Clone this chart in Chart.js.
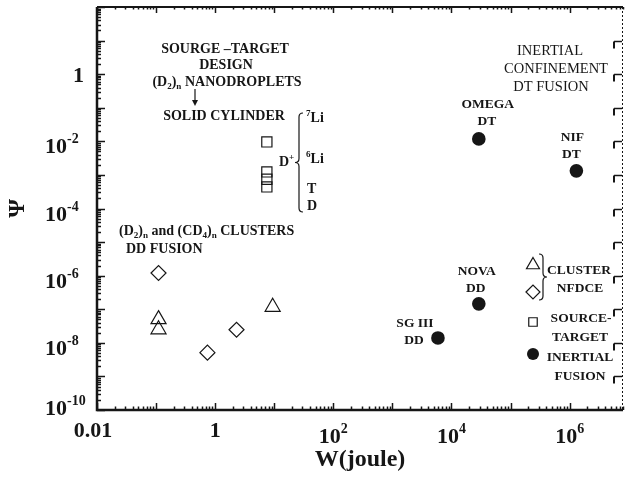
<!DOCTYPE html>
<html>
<head>
<meta charset="utf-8">
<script src="https://cdn.jsdelivr.net/npm/chart.js@4.4.1/dist/chart.umd.min.js"></script>
<style>
  html, body { margin: 0; padding: 0; background: #fff; }
  canvas { display: block; }
</style>
</head>
<body>
<canvas id="chart" width="625" height="478"></canvas>
<script>
// (D2)n and (CD4)n clusters, DD fusion - diamonds
const diamondW = [0.11, 0.74, 2.3];
const diamondPsi = [1.2e-6, 5.1e-9, 2.45e-8];
// cluster NFDCE - triangles
const triangleW = [0.11, 0.11, 9.4];
const trianglePsi = [5e-8, 2.5e-8, 1.17e-7];
// source-target (solid cylinder) - squares
const squareW = [7.5, 7.5, 7.5, 7.5];
const squarePsi = [9.6e-3, 1.23e-3, 7.4e-4, 4.4e-4];
// inertial fusion - filled circles
const fusionNames = [['OMEGA', 'DT'], ['NIF', 'DT'], ['NOVA', 'DD'], ['SG III', 'DD']];
const fusionW = [2.9e4, 1.3e6, 2.9e4, 5.9e3];
const fusionPsi = [1.18e-2, 1.32e-3, 1.45e-7, 1.4e-8];

// tick labels (powers of ten)
const xTickExp = [-2, 0, 2, 4, 6];
const yTickExp = [0, -2, -4, -6, -8, -10];

const SERIF = "'Liberation Serif', 'DejaVu Serif', serif";
const INK = '#161616';

function pts(xs, ys) {
  return xs.map((v, i) => ({ x: v, y: ys[i] }));
}

// text with _{sub} and ^{sup} pieces
function richText(ctx, str, x, y, size, weight, align) {
  const parts = [];
  const re = /([_^])\{([^}]*)\}|([^_^]+)/g;
  let m;
  while ((m = re.exec(str)) !== null) {
    if (m[3]) parts.push({ t: m[3], k: '' });
    else parts.push({ t: m[2], k: m[1] });
  }
  let w = 0;
  parts.forEach(p => {
    const s = p.k ? size * 0.65 : size;
    ctx.font = weight + ' ' + s + 'px ' + SERIF;
    p.w = ctx.measureText(p.t).width;
    p.s = s;
    w += p.w;
  });
  let cx = align === 'center' ? x - w / 2 : (align === 'right' ? x - w : x);
  const base = y + size * 0.34;
  ctx.textAlign = 'left';
  ctx.textBaseline = 'alphabetic';
  parts.forEach(p => {
    ctx.font = weight + ' ' + p.s + 'px ' + SERIF;
    let dy = 0;
    if (p.k === '_') dy = size * 0.22;
    if (p.k === '^') dy = -size * 0.38;
    ctx.fillText(p.t, cx, base + dy);
    cx += p.w;
  });
}

function brace(ctx, x, y1, y2, dir) {
  const m = (y1 + y2) / 2, w = 4;
  ctx.beginPath();
  ctx.moveTo(x - dir * w, y1);
  ctx.quadraticCurveTo(x, y1, x, y1 + w);
  ctx.lineTo(x, m - w);
  ctx.quadraticCurveTo(x, m, x + dir * w, m);
  ctx.quadraticCurveTo(x, m, x, m + w);
  ctx.lineTo(x, y2 - w);
  ctx.quadraticCurveTo(x, y2, x - dir * w, y2);
  ctx.stroke();
}

const notes = [
  ['SOURGE \u2013TARGET', 225, 48, 'center'],
  ['DESIGN', 226, 64, 'center'],
  ['(D_{2})_{n} NANODROPLETS', 227, 81, 'center'],
  ['SOLID CYLINDER', 224, 115, 'center'],
  ['^{7}Li', 306, 117, 'left'],
  ['D^{+}', 279, 161, 'left'],
  ['^{6}Li', 306, 158, 'left'],
  ['T', 307, 188, 'left'],
  ['D', 307, 205, 'left'],
  ['(D_{2})_{n} and (CD_{4})_{n} CLUSTERS', 119, 230, 'left'],
  ['DD FUSION', 126, 248, 'left']
];
const legendNotes = [
  ['CLUSTER', 579, 269],
  ['NFDCE', 580, 287],
  ['SOURCE-', 581, 317],
  ['TARGET', 580, 336],
  ['INERTIAL', 580, 356],
  ['FUSION', 580, 375]
];
const plainNotes = [
  ['INERTIAL', 550, 50],
  ['CONFINEMENT', 556, 68],
  ['DT FUSION', 551, 86]
];
// label offsets from each filled circle
const fusionLabelOffset = [[9, -36], [-4, -34], [-2, -33], [-23, -16]];

const decor = {
  id: 'decor',
  afterDraw(chart) {
    const { ctx, chartArea: a, scales: { x, y } } = chart;
    ctx.save();
    ctx.strokeStyle = INK;
    ctx.fillStyle = INK;

    // frame
    ctx.lineWidth = 2.5;
    ctx.beginPath();
    ctx.moveTo(a.left, a.top);
    ctx.lineTo(a.left, a.bottom);
    ctx.lineTo(a.right, a.bottom);
    ctx.stroke();
    ctx.lineWidth = 2;
    ctx.beginPath();
    ctx.moveTo(a.left, a.top);
    ctx.lineTo(a.right, a.top);
    ctx.stroke();
    ctx.lineWidth = 1;
    ctx.setLineDash([2, 2]);
    ctx.beginPath();
    ctx.moveTo(a.right - 0.5, a.top);
    ctx.lineTo(a.right - 0.5, a.bottom);
    ctx.stroke();
    ctx.setLineDash([]);

    // x ticks, bottom and top, pointing inward
    ctx.lineWidth = 1.5;
    for (let e = -2; e <= 7; e++) {
      for (let k = 1; k < 10; k++) {
        const v = k * Math.pow(10, e);
        if (v < x.min || v > x.max) continue;
        const px = Math.round(x.getPixelForValue(v)) + 0.5;
        const len = k === 1 ? 7 : 3.5;
        ctx.beginPath();
        ctx.moveTo(px, a.bottom);
        ctx.lineTo(px, a.bottom - len);
        ctx.moveTo(px, a.top);
        ctx.lineTo(px, a.top + len - 1);
        ctx.stroke();
      }
    }
    // y ticks, left with minors, right majors only
    for (let e = -10; e <= 2; e++) {
      for (let k = 1; k < 10; k++) {
        const v = k * Math.pow(10, e);
        if (v < y.min * 0.999 || v > y.max * 1.001) continue;
        const py = Math.round(y.getPixelForValue(v)) + 0.5;
        const len = k === 1 ? 8 : 4;
        ctx.lineWidth = 1.5;
        ctx.beginPath();
        ctx.moveTo(a.left, py);
        ctx.lineTo(a.left + len, py);
        ctx.stroke();
        if (k === 1 && e > -10 && e < 2) {
          ctx.beginPath();
          ctx.moveTo(a.right - 9, py);
          ctx.lineTo(a.right - 1, py);
          ctx.stroke();
          ctx.lineWidth = 2;
          ctx.beginPath();
          ctx.moveTo(a.right - 9, py);
          ctx.lineTo(a.right - 9, py + 7);
          ctx.stroke();
        }
      }
    }

    // tick labels
    ctx.textBaseline = 'alphabetic';
    xTickExp.forEach(e => {
      const px = x.getPixelForValue(Math.pow(10, e));
      if (e === -2 || e === 0) {
        ctx.font = 'bold 22px ' + SERIF;
        ctx.textAlign = 'center';
        ctx.fillText(e === -2 ? '0.01' : '1', px - (e === -2 ? 4 : 0), 437);
      } else {
        ctx.font = 'bold 22px ' + SERIF;
        const bw = ctx.measureText('10').width;
        ctx.font = 'bold 14px ' + SERIF;
        const ew = ctx.measureText(String(e)).width;
        const x0 = px - (bw + ew) / 2;
        ctx.textAlign = 'left';
        ctx.font = 'bold 22px ' + SERIF;
        ctx.fillText('10', x0, 443);
        ctx.font = 'bold 14px ' + SERIF;
        ctx.fillText(String(e), x0 + bw, 433);
      }
    });
    yTickExp.forEach(e => {
      const py = y.getPixelForValue(Math.pow(10, e));
      ctx.textAlign = 'left';
      if (e === 0) {
        ctx.font = 'bold 22px ' + SERIF;
        ctx.textAlign = 'right';
        ctx.fillText('1', 84, py + 8);
      } else {
        const base = Math.min(py + 12, 415);
        ctx.font = 'bold 22px ' + SERIF;
        const bw = ctx.measureText('10').width;
        ctx.fillText('10', 45, base);
        ctx.font = 'bold 14px ' + SERIF;
        ctx.fillText('-' + Math.abs(e), 45 + bw, base - 10);
      }
    });

    // annotations
    notes.forEach(n => richText(ctx, n[0], n[1], n[2], 14, 'bold', n[3]));
    legendNotes.forEach(n => richText(ctx, n[0], n[1], n[2], 13.5, 'bold', 'center'));
    plainNotes.forEach(n => richText(ctx, n[0], n[1], n[2], 14.5, 'normal', 'center'));

    // labels next to inertial fusion points
    const meta = chart.getDatasetMeta(3);
    meta.data.forEach((pt, i) => {
      const off = fusionLabelOffset[i];
      richText(ctx, fusionNames[i][0], pt.x + off[0], pt.y + off[1], 13.5, 'bold', 'center');
      richText(ctx, fusionNames[i][1], pt.x + off[0] - 1, pt.y + off[1] + 17, 13.5, 'bold', 'center');
    });

    // arrow
    ctx.lineWidth = 1.2;
    ctx.beginPath();
    ctx.moveTo(195, 89);
    ctx.lineTo(195, 103);
    ctx.stroke();
    ctx.beginPath();
    ctx.moveTo(192, 100);
    ctx.lineTo(198, 100);
    ctx.lineTo(195, 106);
    ctx.closePath();
    ctx.fill();

    // braces
    ctx.lineWidth = 1.2;
    brace(ctx, 299, 113, 212, -1);
    brace(ctx, 543, 254, 300, 1);

    // legend symbols
    const H = Chart.helpers;
    ctx.lineWidth = 1.2;
    ctx.fillStyle = 'rgba(0,0,0,0)';
    H.drawPoint(ctx, { pointStyle: 'triangle', radius: 7.5, borderWidth: 1.2, rotation: 0 }, 533, 265);
    H.drawPoint(ctx, { pointStyle: 'rectRot', radius: 7, borderWidth: 1.2, rotation: 0 }, 533, 292);
    H.drawPoint(ctx, { pointStyle: 'rect', radius: 6, borderWidth: 1.2, rotation: 0 }, 533, 322);
    ctx.fillStyle = INK;
    H.drawPoint(ctx, { pointStyle: 'circle', radius: 6, borderWidth: 0, rotation: 0 }, 533, 354);
    ctx.restore();
  }
};

new Chart(document.getElementById('chart'), {
  type: 'scatter',
  data: {
    datasets: [
      {
        label: 'clusters DD',
        data: pts(diamondW, diamondPsi),
        pointStyle: 'rectRot',
        pointRadius: 7.5,
        borderColor: INK,
        backgroundColor: 'rgba(0,0,0,0)',
        borderWidth: 1.2
      },
      {
        label: 'cluster NFDCE',
        data: pts(triangleW, trianglePsi),
        pointStyle: 'triangle',
        pointRadius: 8.7,
        borderColor: INK,
        backgroundColor: 'rgba(0,0,0,0)',
        borderWidth: 1.2
      },
      {
        label: 'source-target',
        data: pts(squareW, squarePsi),
        pointStyle: 'rect',
        pointRadius: 7.2,
        borderColor: INK,
        backgroundColor: 'rgba(0,0,0,0)',
        borderWidth: 1.2
      },
      {
        label: 'inertial fusion',
        data: pts(fusionW, fusionPsi),
        pointStyle: 'circle',
        pointRadius: 6.8,
        borderColor: INK,
        backgroundColor: INK,
        borderWidth: 0
      }
    ]
  },
  options: {
    responsive: false,
    animation: false,
    events: [],
    layout: { autoPadding: false, padding: { left: 0, right: 2, top: 7, bottom: 0 } },
    plugins: { legend: { display: false }, tooltip: { enabled: false } },
    scales: {
      x: {
        type: 'logarithmic',
        min: 0.01,
        max: 8e6,
        ticks: { display: false },
        grid: { display: false },
        border: { display: false },
        title: {
          display: true,
          text: 'W(joule)',
          color: INK,
          font: { family: SERIF, size: 24, weight: 'bold' },
          padding: { top: 0, bottom: 4 }
        },
        afterFit(s) { s.height = 68; }
      },
      y: {
        type: 'logarithmic',
        min: 1e-10,
        max: 1e2,
        ticks: { display: false },
        grid: { display: false },
        border: { display: false },
        title: {
          display: true,
          text: '\u03A8',
          color: INK,
          font: { family: SERIF, size: 24, weight: 'bold' },
          padding: { top: 3, bottom: 0 }
        },
        afterFit(s) { s.width = 97; }
      }
    }
  },
  plugins: [decor]
});
</script>
</body>
</html>
